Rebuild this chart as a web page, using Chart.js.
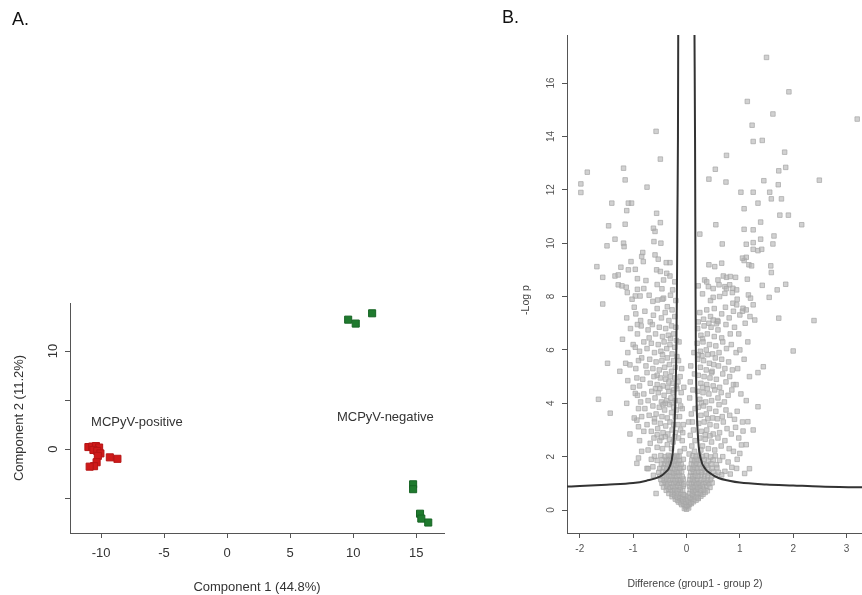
<!DOCTYPE html>
<html>
<head>
<meta charset="utf-8">
<script src="https://cdn.jsdelivr.net/npm/chart.js@4.4.1/dist/chart.umd.min.js"></script>
<style>
  html, body { margin: 0; padding: 0; background: #fff; width: 862px; height: 595px; overflow: hidden; }
  .wrap { position: absolute; top: 0; }
  .panel { position: absolute; font: 18px "Liberation Sans", Arial, sans-serif; color: #111; }
  .axis-title { position: absolute; font: 10.5px "Liberation Sans", Arial, sans-serif; color: #444; white-space: nowrap; }
</style>
</head>
<body>
<div class="wrap" style="left:0;width:470px;height:595px"><canvas id="pca" width="470" height="595"></canvas></div>
<div class="wrap" style="left:490px;width:372px;height:595px"><canvas id="volcano" width="372" height="595"></canvas></div>
<div class="panel" style="left:12px;top:9px">A.</div>
<div class="panel" style="left:502px;top:7px">B.</div>
<div class="axis-title" id="volcanoXTitle" style="left:695px;top:583px;transform:translate(-50%,-50%)">Difference (group1 - group 2)</div>
<div class="axis-title" id="volcanoYTitle" style="left:525px;top:300px;transform:translate(-50%,-50%) rotate(-90deg)">-Log p</div>

<script>
// ---------- Panel A: principal component scores ----------
const positiveSamples = [
  [-11.0, 0.2], [-10.7, 0.25], [-10.4, 0.3], [-10.15, 0.15], [-10.6, -0.1],
  [-10.3, -0.2], [-10.05, -0.45], [-10.25, -0.7], [-10.35, -1.35],
  [-10.55, -1.75], [-10.9, -1.8], [-9.3, -0.85], [-8.7, -1.0]
];
const negativeSamples = [
  [9.6, 13.2], [10.2, 12.8], [11.5, 13.85],
  [14.75, -3.6], [14.75, -4.1],
  [15.3, -6.6], [15.4, -7.1], [15.95, -7.5]
];
const pcaXTicks = [-10, -5, 0, 5, 10, 15];
const pcaYTickLabels = [0, 10];
const groupLabels = [
  { text: 'MCPyV-positive', x: -7.15, y: 2.75 },
  { text: 'MCPyV-negative', x: 12.55, y: 3.25 }
];

// ---------- Panel B: volcano plot ----------
// isolated proteins away from the main cloud
const volcanoScattered = [
  [-0.57,14.19],[-0.49,13.15],[-1.86,12.66],[-1.98,12.22],[-1.98,11.9],[-1.18,12.81],[-1.15,12.37],[-0.74,12.1],
  [0.54,12.77],[0.42,12.4],[1.5,16.96],[1.92,15.67],[1.14,15.31],[1.62,14.84],[1.23,14.42],[3.2,14.65],
  [1.25,13.81],[1.42,13.85],[0.75,13.29],[1.84,13.41],[1.86,12.84],[1.73,12.71],[0.74,12.29],[1.45,12.34],
  [1.72,12.19],[2.49,12.36],[1.02,11.91],[1.25,11.91],[1.56,11.91],[1.59,11.66],[1.78,11.66],
  [-1.4,11.5],[-1.09,11.5],[-1.03,11.5],[-1.12,11.22],[-0.56,11.12],[-0.49,10.77],[-1.46,10.65],[-1.15,10.71],
  [-0.62,10.56],[-0.59,10.44],[-1.34,10.15],[-1.49,9.9],[-1.18,10.0],[-1.17,9.87],[-0.61,10.06],[-0.48,10.0],
  [-0.82,9.65],[-0.84,9.5],[-0.59,9.56],[-0.53,9.4],[-0.38,9.27],[-0.31,9.27],[-1.04,9.31],[-0.81,9.31],
  [-1.68,9.12],[-1.23,9.1],[-1.09,9.0],[-0.96,9.02],[-0.56,9.0],[-0.49,8.94],[-0.37,8.87],[-0.31,8.77],
  [-1.57,8.72],[-1.34,8.77],[-1.28,8.81],[-0.92,8.67],[-0.76,8.6],[-0.43,8.62],[-1.28,8.44],[-1.21,8.4],
  [-1.13,8.35],[-0.92,8.27],[-0.46,8.29],[-1.11,8.15],[-0.96,8.02],[-0.87,8.02],[-0.54,7.87],[-0.43,7.94],
  [-0.26,8.25],[-1.57,7.72],
  [1.34,11.5],[1.08,11.29],[1.75,11.05],[1.91,11.05],[0.55,10.69],[1.39,10.79],[2.16,10.69],[1.08,10.52],
  [1.25,10.5],[1.64,10.27],[1.39,10.15],[0.25,10.34],[0.67,9.97],[1.12,9.96],[1.25,10.02],[1.62,9.97],
  [1.25,9.77],[1.34,9.72],[1.41,9.77],[1.08,9.35],[1.05,9.44],[1.12,9.47],[0.42,9.19],[0.53,9.12],
  [0.66,9.25],[1.17,9.19],[1.22,9.15],[1.58,9.15],[1.59,8.9],[0.34,8.62],[0.41,8.37],[0.69,8.77],
  [0.75,8.72],[0.82,8.75],[0.92,8.72],[0.59,8.62],[1.14,8.65],[0.61,8.44],[0.72,8.37],[0.81,8.44],
  [0.87,8.31],[0.94,8.25],[1.42,8.42],[1.86,8.46],[1.7,8.25],[0.5,7.97],[0.72,8.12],[1.16,8.06],
  [1.2,7.94],[1.55,7.97],[0.87,7.75],[0.94,7.69],[1.06,7.56],[1.12,7.5],[1.25,7.69],[1.73,7.19],
  [2.39,7.1],[1.19,7.25],[1.28,7.12],[0.5,7.12],[0.59,7.06],[1.0,7.31],[2.0,5.96],
  [-1.48,5.5],[-1.65,4.15],[-1.43,3.63],[-1.1,4.85],[-1.14,5.5],[-1.06,5.44],[-0.96,4.37],[-0.93,3.37],
  [-0.9,3.12],[-0.93,1.75],[-0.74,1.56],[-0.63,1.62],[-0.57,0.62],
  [1.44,5.37],[1.34,5.15],[1.34,3.87],[1.15,3.31],[1.06,2.96],[1.03,2.44],[1.0,2.12],[1.09,1.37],[0.94,1.56],
  [-1.02,7.9],[-0.98,7.6],[-1.12,7.2],[-0.92,6.95],[-1.2,6.4],[-0.96,6.1],[-1.1,5.9],[-0.9,5.6],[-1.25,5.2],
  [-0.93,4.95],[-1.0,4.6],[-0.92,4.3],[-1.12,4.0],[-0.9,3.8],[-0.98,3.45],[-1.06,2.85],[-0.88,2.6],[-0.84,2.2],
  [-0.9,1.95],[-0.66,1.9],[-0.72,1.55],[-0.62,1.3],[-0.8,8.3],[-0.7,8.05],[-0.63,7.82],[-0.45,7.9],[-0.3,8.05],
  [-0.2,7.85],[-0.55,8.45],[-0.22,8.55],
  [0.95,7.9],[1.05,7.45],[1.1,7.0],[0.98,6.6],[1.15,6.3],[1.0,6.0],[1.08,5.65],[0.96,5.3],[1.18,5.0],
  [0.93,4.7],[1.02,4.35],[1.12,4.1],[0.95,3.7],[1.05,3.3],[0.92,3.1],[0.98,2.7],[1.12,2.45],[0.88,2.2],
  [0.95,1.9],[0.85,1.6],[0.78,1.8],[0.72,1.45],[0.66,1.32],[0.82,1.35],[1.18,1.55],[1.25,3.0],[0.3,8.1],
  [0.45,7.85],[0.62,8.0],[0.75,8.3],[0.86,8.15],[0.22,8.4],[0.38,8.55],[0.5,8.3]
];
// dense cloud of proteins with small differences
const volcanoCore = [
  // left wing
  [-0.78,7.45],[-0.62,7.3],[-0.55,7.55],[-0.47,7.2],[-0.4,7.4],[-0.33,7.1],[-0.27,7.5],[-0.22,7.25],[-0.68,7.05],[-0.36,7.62],[-0.95,7.35],[-0.86,7.1],
  [-0.85,6.9],[-0.72,6.75],[-0.64,6.95],[-0.58,6.6],[-0.51,6.85],[-0.45,6.5],[-0.39,6.8],[-0.34,6.55],[-0.28,6.9],[-0.24,6.6],[-0.2,6.85],[-0.3,6.42],[-0.7,6.45],[-0.92,6.6],[-1.05,6.8],
  [-0.8,6.3],[-0.74,6.05],[-0.66,6.25],[-0.6,5.9],[-0.53,6.2],[-0.48,5.95],[-0.42,6.3],[-0.37,6.05],[-0.31,6.2],[-0.27,5.85],[-0.22,6.1],[-0.19,6.35],[-0.88,5.95],[-1.0,6.2],[-0.45,5.82],
  [-0.84,5.7],[-0.76,5.4],[-0.69,5.65],[-0.63,5.3],[-0.57,5.55],[-0.51,5.25],[-0.46,5.6],[-0.41,5.35],[-0.36,5.7],[-0.32,5.45],[-0.28,5.2],[-0.24,5.6],[-0.21,5.35],[-0.18,5.75],[-0.39,5.1],[-0.95,5.3],[-0.55,5.05],
  [-0.82,4.9],[-0.74,5.15],[-0.68,4.75],[-0.61,5.0],[-0.55,4.7],[-0.49,4.95],[-0.44,4.65],[-0.39,4.9],[-0.35,4.6],[-0.3,5.0],[-0.26,4.75],[-0.22,4.95],[-0.19,4.65],[-0.88,4.65],[-0.58,4.55],[-0.33,4.8],[-0.24,4.5],
  [-0.8,4.35],[-0.72,4.1],[-0.65,4.45],[-0.59,4.2],[-0.53,4.4],[-0.47,4.05],[-0.42,4.3],[-0.37,4.1],[-0.33,4.45],[-0.29,4.2],[-0.25,4.4],[-0.21,4.1],[-0.18,4.55],[-0.5,4.55],[-0.4,4.0],[-0.86,4.05],[-0.27,4.02],
  [-0.78,3.8],[-0.7,3.55],[-0.63,3.9],[-0.57,3.6],[-0.51,3.85],[-0.46,3.5],[-0.41,3.75],[-0.36,3.45],[-0.32,3.95],[-0.28,3.65],[-0.24,3.85],[-0.21,3.5],[-0.19,3.75],[-0.6,3.42],[-0.44,3.95],[-0.84,3.5],
  [-0.74,3.2],[-0.66,2.95],[-0.6,3.3],[-0.54,3.05],[-0.49,3.25],[-0.44,2.9],[-0.39,3.15],[-0.35,2.85],[-0.31,3.3],[-0.27,3.0],[-0.24,3.2],[-0.21,2.9],[-0.55,2.82],[-0.8,2.95],
  [-0.68,2.5],[-0.61,2.7],[-0.55,2.35],[-0.5,2.6],[-0.45,2.3],[-0.4,2.75],[-0.36,2.45],[-0.32,2.65],[-0.28,2.3],[-0.25,2.55],[-0.22,2.75],[-0.72,2.25],[-0.47,2.72],
  [-0.15,5.6],[-0.12,5.0],[-0.1,4.4],[-0.14,4.1],[-0.08,3.8],[-0.13,3.5],[-0.06,3.2],[-0.11,3.0],[-0.15,2.7],[-0.08,2.6],[-0.04,2.3],[-0.12,2.2],[-0.17,2.0],[-0.06,1.9],[-0.14,6.3],[-0.09,5.3],[-0.16,4.8],[-0.05,4.6],[-0.11,3.9],[-0.16,3.2],[-0.07,2.9],
  // right wing
  [0.25,7.4],[0.32,7.15],[0.38,7.5],[0.45,7.25],[0.52,7.55],[0.58,7.1],[0.66,7.35],[0.73,7.6],[0.8,7.2],[0.88,7.45],[0.22,7.05],[0.42,7.0],
  [0.21,6.8],[0.27,6.55],[0.33,6.9],[0.39,6.6],[0.46,6.85],[0.52,6.5],[0.59,6.75],[0.66,6.45],[0.74,6.95],[0.82,6.6],[0.9,6.85],[0.3,6.42],[0.56,6.98],
  [0.2,6.25],[0.26,5.95],[0.31,6.3],[0.37,6.0],[0.43,6.2],[0.49,5.85],[0.55,6.15],[0.61,5.9],[0.68,6.3],[0.75,6.05],[0.84,6.2],[0.93,5.9],[0.4,5.82],[0.22,5.82],
  [0.21,5.65],[0.26,5.35],[0.32,5.6],[0.37,5.25],[0.43,5.5],[0.48,5.2],[0.54,5.7],[0.6,5.4],[0.66,5.65],[0.72,5.3],[0.79,5.55],[0.86,5.25],[0.29,5.78],[0.51,5.45],
  [0.22,5.05],[0.27,4.75],[0.33,5.0],[0.38,4.7],[0.44,4.95],[0.5,4.65],[0.56,4.9],[0.62,4.6],[0.68,5.1],[0.74,4.8],[0.81,5.0],[0.3,4.6],[0.47,5.15],[0.88,4.7],
  [0.21,4.45],[0.25,4.15],[0.31,4.4],[0.36,4.05],[0.42,4.35],[0.47,4.1],[0.53,4.5],[0.59,4.2],[0.65,4.4],[0.71,4.05],[0.78,4.3],[0.85,4.5],[0.39,4.55],[0.28,4.02],
  [0.22,3.85],[0.27,3.55],[0.32,3.9],[0.37,3.6],[0.43,3.8],[0.49,3.45],[0.55,3.7],[0.61,3.95],[0.67,3.5],[0.74,3.75],[0.81,3.55],[0.9,3.4],[0.4,3.42],[0.58,3.42],
  [0.23,3.25],[0.28,2.95],[0.33,3.3],[0.38,3.0],[0.44,3.2],[0.5,2.85],[0.56,3.15],[0.62,2.9],[0.69,3.3],[0.76,3.05],[0.84,2.85],[0.35,2.82],
  [0.25,2.7],[0.3,2.4],[0.35,2.65],[0.41,2.3],[0.47,2.55],[0.53,2.25],[0.59,2.7],[0.65,2.4],[0.72,2.6],[0.8,2.3],[0.27,2.25],[0.44,2.78],
  [0.05,2.1],[0.1,2.4],[0.15,2.2],[0.07,2.8],[0.13,3.0],[0.04,3.3],[0.09,3.6],[0.16,3.8],[0.06,4.2],[0.12,4.5],[0.15,5.1],[0.08,5.4],[0.14,5.9],[0.11,3.3],[0.16,2.6],[0.07,4.8],
  // base of the cloud
  [-0.04,0.06],[0.0,0.03],[0.04,0.08],[-0.02,0.12],[0.02,0.15],
  [-0.09,0.2],[-0.05,0.22],[0.0,0.18],[0.05,0.21],[0.09,0.24],
  [-0.15,0.3],[-0.11,0.27],[-0.06,0.33],[-0.01,0.29],[0.04,0.32],[0.08,0.28],[0.13,0.31],
  [-0.21,0.41],[-0.17,0.37],[-0.12,0.43],[-0.07,0.39],[-0.02,0.42],[0.03,0.38],[0.08,0.44],[0.13,0.4],[0.18,0.37],[0.22,0.43],
  [-0.27,0.5],[-0.22,0.53],[-0.17,0.48],[-0.12,0.52],[-0.07,0.49],[-0.03,0.55],[0.03,0.51],[0.07,0.47],[0.12,0.54],[0.17,0.5],[0.22,0.46],[0.27,0.52],
  [-0.33,0.62],[-0.27,0.6],[-0.22,0.65],[-0.16,0.61],[-0.11,0.64],[-0.06,0.59],[0.06,0.63],[0.11,0.6],[0.16,0.66],[0.21,0.61],[0.26,0.64],[0.31,0.59],[0.35,0.66],
  [-0.38,0.74],[-0.33,0.78],[-0.27,0.73],[-0.22,0.77],[-0.17,0.72],[-0.12,0.76],[-0.07,0.74],[0.07,0.77],[0.12,0.72],[0.17,0.75],[0.22,0.79],[0.27,0.73],[0.33,0.76],[0.39,0.72],
  [-0.43,0.86],[-0.37,0.9],[-0.31,0.85],[-0.26,0.89],[-0.21,0.87],[-0.16,0.91],[-0.11,0.86],[-0.06,0.9],[0.06,0.88],[0.11,0.85],[0.16,0.9],[0.21,0.86],[0.26,0.91],[0.32,0.87],[0.38,0.9],[0.44,0.85],
  [-0.46,1.0],[-0.4,1.03],[-0.35,0.98],[-0.29,1.02],[-0.24,0.99],[-0.19,1.04],[-0.14,1.0],[-0.09,1.02],[-0.05,0.97],[0.05,1.01],[0.09,0.98],[0.14,1.03],[0.19,0.99],[0.24,1.02],[0.3,0.98],[0.36,1.03],[0.42,0.99],[0.48,1.02],
  [-0.48,1.14],[-0.42,1.11],[-0.37,1.16],[-0.31,1.12],[-0.26,1.15],[-0.21,1.1],[-0.16,1.14],[-0.11,1.12],[-0.06,1.16],[0.06,1.13],[0.11,1.16],[0.16,1.11],[0.21,1.15],[0.27,1.12],[0.33,1.16],[0.39,1.11],[0.45,1.14],
  [-0.5,1.27],[-0.44,1.3],[-0.38,1.25],[-0.33,1.29],[-0.28,1.26],[-0.23,1.31],[-0.18,1.27],[-0.13,1.3],[-0.08,1.25],[0.07,1.28],[0.12,1.25],[0.17,1.3],[0.22,1.27],[0.28,1.31],[0.34,1.26],[0.4,1.29],[0.47,1.25],[0.55,1.3],
  [-0.52,1.41],[-0.45,1.44],[-0.39,1.4],[-0.34,1.45],[-0.29,1.42],[-0.24,1.39],[-0.19,1.44],[-0.14,1.41],[-0.09,1.45],[0.08,1.42],[0.13,1.45],[0.18,1.4],[0.23,1.44],[0.29,1.41],[0.35,1.46],[0.42,1.4],[0.5,1.44],[0.6,1.41],
  [-0.5,1.56],[-0.43,1.59],[-0.37,1.55],[-0.32,1.6],[-0.27,1.57],[-0.22,1.54],[-0.17,1.59],[-0.12,1.56],[-0.06,1.6],[0.06,1.57],[0.11,1.54],[0.16,1.6],[0.21,1.56],[0.27,1.59],[0.33,1.55],[0.4,1.6],[0.48,1.56],[0.57,1.59],
  [-0.47,1.71],[-0.41,1.74],[-0.35,1.7],[-0.3,1.75],[-0.25,1.72],[-0.2,1.69],[-0.15,1.74],[-0.1,1.71],[0.09,1.73],[0.14,1.7],[0.19,1.75],[0.25,1.71],[0.31,1.74],[0.38,1.69],[0.46,1.73],[0.56,1.7],
  [-0.55,1.86],[-0.44,1.89],[-0.38,1.85],[-0.33,1.9],[-0.28,1.87],[-0.23,1.84],[-0.18,1.89],[-0.13,1.86],[0.1,1.88],[0.15,1.85],[0.2,1.9],[0.26,1.86],[0.33,1.89],[0.41,1.84],[0.5,1.88],[0.62,1.86],
  [-0.6,2.01],[-0.48,2.04],[-0.4,2.0],[-0.34,2.05],[-0.29,2.02],[-0.24,1.99],[-0.19,2.04],[-0.14,2.01],[0.12,2.03],[0.18,2.0],[0.24,2.05],[0.3,2.01],[0.37,2.04],[0.45,1.99],[0.54,2.03],[0.68,2.0]
];
// significance threshold curve, one branch per side
const thresholdLeft = [
  [-2.24,0.88],[-2.0,0.9],[-1.5,0.95],[-1.0,1.01],[-0.75,1.1],[-0.5,1.25],[-0.4,1.4],[-0.31,1.65],
  [-0.26,2.1],[-0.23,3.0],[-0.21,4.0],[-0.19,6.0],[-0.18,8.0],[-0.17,11.0],[-0.16,14.0],[-0.155,17.8]
];
const thresholdRight = [
  [0.15,17.8],[0.16,14.0],[0.165,11.0],[0.17,8.0],[0.175,6.0],[0.19,4.0],[0.22,2.6],[0.27,1.9],
  [0.35,1.55],[0.45,1.37],[0.6,1.2],[0.8,1.1],[1.0,1.03],[1.5,0.96],[2.0,0.92],[2.5,0.88],[3.3,0.85]
];

const FONT = '"Liberation Sans", Arial, sans-serif';
const toXY = pts => pts.map(([x, y]) => ({ x, y }));

function axisStyle(size, color) {
  return {
    grid: { display: true, drawOnChartArea: false, drawTicks: true, tickLength: 5, tickColor: '#555', tickWidth: 1 },
    border: { display: true, color: '#555', width: 1 },
    ticks: { font: { family: FONT, size }, color }
  };
}

// text annotations placed in data coordinates
const groupLabelPlugin = {
  id: 'groupLabels',
  afterDatasetsDraw(chart) {
    const { ctx, scales: { x, y } } = chart;
    ctx.save();
    ctx.font = '13px ' + FONT;
    ctx.fillStyle = '#333';
    ctx.textAlign = 'center';
    ctx.textBaseline = 'middle';
    groupLabels.forEach(g => ctx.fillText(g.text, x.getPixelForValue(g.x), y.getPixelForValue(g.y)));
    ctx.restore();
  }
};

const pcaX = axisStyle(13, '#333');
const pcaY = axisStyle(13, '#333');

new Chart(document.getElementById('pca'), {
  type: 'scatter',
  data: {
    datasets: [
      { label: 'MCPyV-positive', data: toXY(positiveSamples), pointStyle: 'rect', pointRadius: 5,
        backgroundColor: '#cf1a1a', borderColor: '#b51414', borderWidth: 1 },
      { label: 'MCPyV-negative', data: toXY(negativeSamples), pointStyle: 'rect', pointRadius: 5,
        backgroundColor: '#1f7a2e', borderColor: '#176424', borderWidth: 1 }
    ]
  },
  options: {
    responsive: false, animation: false,
    layout: { autoPadding: false, padding: { left: 10, right: 26, top: 303, bottom: 0 } },
    plugins: { legend: { display: false }, tooltip: { enabled: false } },
    scales: {
      x: {
        type: 'linear', min: -12.46, max: 17.2,
        afterFit(s) { s.height = 62; },
        afterBuildTicks(s) { s.ticks = pcaXTicks.map(v => ({ value: v })); },
        grid: pcaX.grid, border: pcaX.border,
        ticks: { ...pcaX.ticks, padding: 8 },
        title: { display: true, text: 'Component 1 (44.8%)', font: { family: FONT, size: 13 }, color: '#333', padding: { top: 2, bottom: 0 } }
      },
      y: {
        type: 'linear', min: -8.57, max: 14.9,
        afterFit(s) { s.width = 60; },
        grid: pcaY.grid, border: pcaY.border,
        ticks: { ...pcaY.ticks, stepSize: 5, includeBounds: false, minRotation: 90, maxRotation: 90,
                 crossAlign: 'center', padding: 4,
                 callback: v => pcaYTickLabels.includes(v) ? String(v) : '' },
        title: { display: true, text: 'Component 2 (11.2%)', font: { family: FONT, size: 13 }, color: '#333', padding: { top: 2, bottom: 0 } }
      }
    }
  },
  plugins: [groupLabelPlugin]
});

const volX = axisStyle(10, '#555');
const volY = axisStyle(10, '#555');
const curveStyle = { showLine: true, pointRadius: 0, borderColor: '#333', borderWidth: 2,
                     cubicInterpolationMode: 'monotone', fill: false };
const dotStyle = { pointStyle: 'rect', pointRadius: 3.2, borderWidth: 1,
                   backgroundColor: 'rgba(178,178,178,0.6)', borderColor: 'rgba(165,165,165,0.7)' };

new Chart(document.getElementById('volcano'), {
  type: 'scatter',
  data: {
    datasets: [
      { label: 'threshold (left)', data: toXY(thresholdLeft), ...curveStyle },
      { label: 'threshold (right)', data: toXY(thresholdRight), ...curveStyle },
      { label: 'proteins', data: toXY(volcanoScattered), ...dotStyle },
      { label: 'proteins (core)', data: toXY(volcanoCore), ...dotStyle }
    ]
  },
  options: {
    responsive: false, animation: false,
    layout: { autoPadding: false, padding: { left: 0, right: 0, top: 35, bottom: 0 } },
    plugins: { legend: { display: false }, tooltip: { enabled: false } },
    scales: {
      x: {
        type: 'linear', min: -2.24, max: 3.29,
        afterFit(s) { s.height = 62; },
        grid: volX.grid, border: volX.border,
        ticks: { ...volX.ticks, stepSize: 1, includeBounds: false, padding: 5 }
      },
      y: {
        type: 'linear', min: -0.86, max: 17.8,
        afterFit(s) { s.width = 77; },
        grid: volY.grid, border: volY.border,
        ticks: { ...volY.ticks, stepSize: 2, includeBounds: false, minRotation: 90, maxRotation: 90,
                 crossAlign: 'center', padding: 5 }
      }
    }
  }
});
</script>
</body>
</html>
